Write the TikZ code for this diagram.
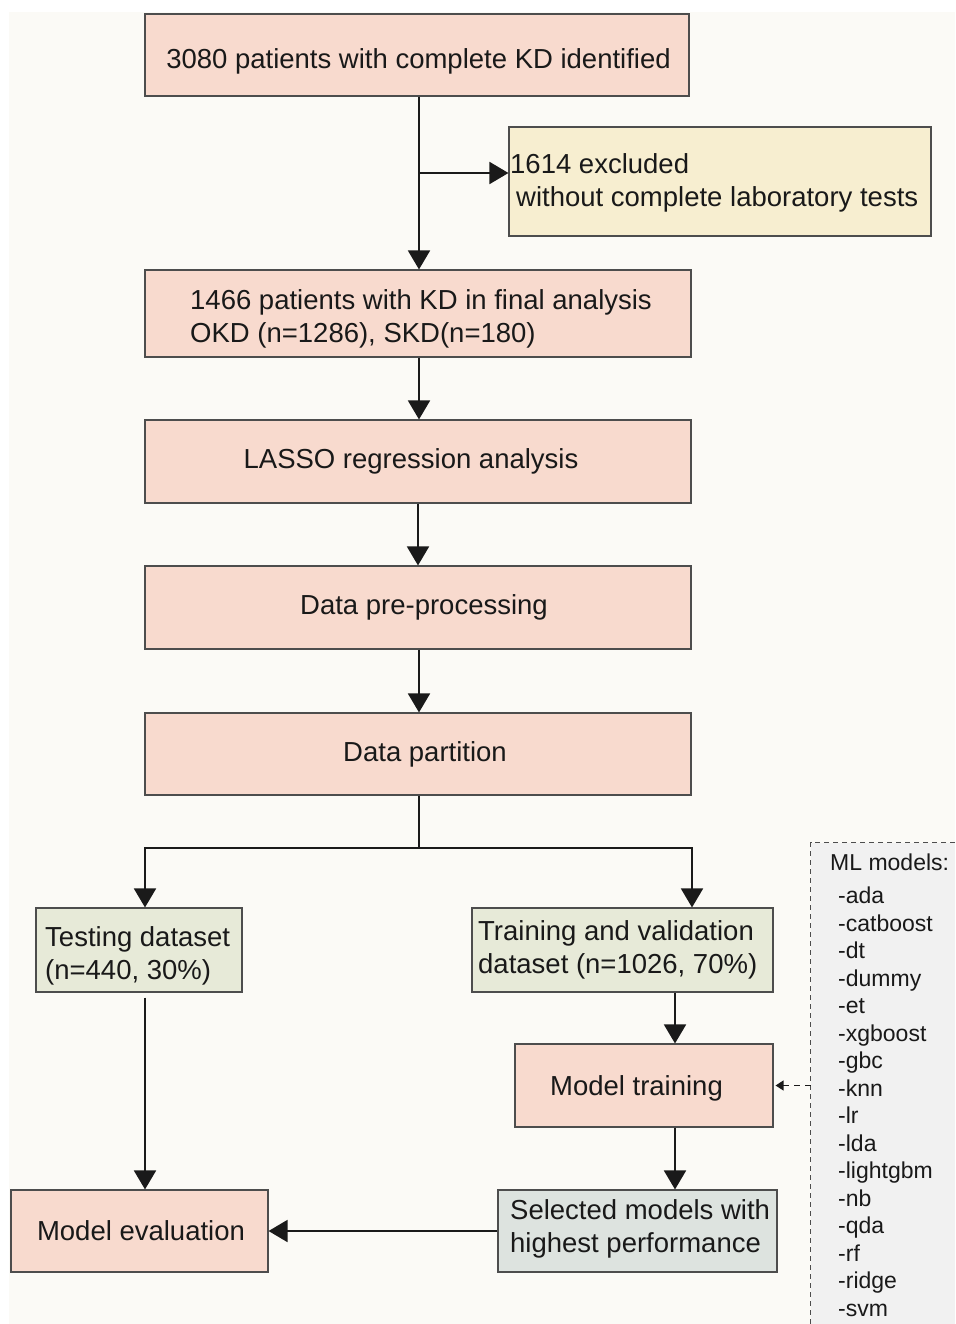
\documentclass[tikz,border=0pt]{standalone}
\usepackage{fontspec}
\setmainfont{Liberation Sans}
\usetikzlibrary{arrows.meta}
\definecolor{pinkc}{HTML}{F8DACE}
\definecolor{yellowc}{HTML}{F7EED0}
\definecolor{greenc}{HTML}{E7EAD8}
\definecolor{greyc}{HTML}{DDE3DF}
\definecolor{mlc}{HTML}{F1F1F1}
\definecolor{bgc}{HTML}{FBFAF6}
\definecolor{edgec}{HTML}{4D4D4D}
\definecolor{arrc}{HTML}{1A1A1A}
\tikzset{
  box/.style={draw=edgec, line width=1.1pt, inner sep=0pt},
  pinkbox/.style={box, fill=pinkc},
  yellowbox/.style={box, fill=yellowc},
  greenbox/.style={box, fill=greenc},
  greybox/.style={box, fill=greyc},
  txt/.style={inner sep=0pt, font=\fontsize{27.5}{33}\selectfont, text=black!90},
  ltxt/.style={txt, anchor=west, align=left},
  arr/.style={draw=arrc, line width=1.8pt, -{Triangle[length=19pt,width=22pt]}},
  plainline/.style={draw=arrc, line width=1.8pt},
  dasharr/.style={draw=arrc, line width=1.2pt, dash pattern=on 6pt off 5pt, -{Triangle[length=8pt,width=10pt]}},
}
\begin{document}
\begin{tikzpicture}[x=1pt, y=-1pt]
\useasboundingbox (0,0) rectangle (955,1324);
\fill[bgc] (9,12) rectangle (955,1324);

% ML models panel
\node[fill=mlc, minimum width=144pt, minimum height=481pt, inner sep=0pt] (mlbox) at (883,1083.5) {};
\draw[edgec, line width=1pt, dash pattern=on 5pt off 4pt] (mlbox.north east) -- (mlbox.north west) -- (mlbox.south west);
\node[anchor=north west, inner sep=0pt, align=left, font=\fontsize{23}{27.5}\selectfont, text=black!90] (mllist) at (830,854)
 {ML models:\\[5.5pt]
  \hspace*{8pt}-ada\\
  \hspace*{8pt}-catboost\\
  \hspace*{8pt}-dt\\
  \hspace*{8pt}-dummy\\
  \hspace*{8pt}-et\\
  \hspace*{8pt}-xgboost\\
  \hspace*{8pt}-gbc\\
  \hspace*{8pt}-knn\\
  \hspace*{8pt}-lr\\
  \hspace*{8pt}-lda\\
  \hspace*{8pt}-lightgbm\\
  \hspace*{8pt}-nb\\
  \hspace*{8pt}-qda\\
  \hspace*{8pt}-rf\\
  \hspace*{8pt}-ridge\\
  \hspace*{8pt}-svm};

% boxes
\node[pinkbox, minimum width=544pt, minimum height=82pt] (n1) at (417,55) {};
\node[txt] (n1t) at (418.5,61) {3080 patients with complete KD identified};
\node[yellowbox, minimum width=422pt, minimum height=109pt] (excl) at (720,181.5) {};
\node[ltxt] (exclt) at (510,182.5) {1614 excluded\\ \hspace*{6pt}without complete laboratory tests};
\node[pinkbox, minimum width=546pt, minimum height=87pt] (n2) at (418,313.5) {};
\node[ltxt] (n2t) at (190,318.5) {1466 patients with KD in final analysis\\OKD (n=1286), SKD(n=180)};
\node[pinkbox, minimum width=546pt, minimum height=83pt] (lasso) at (418,461.5) {};
\node[txt] (lassot) at (411,461) {LASSO regression analysis};
\node[pinkbox, minimum width=546pt, minimum height=83pt] (prep) at (418,607.5) {};
\node[txt] (prept) at (424,607) {Data pre-processing};
\node[pinkbox, minimum width=546pt, minimum height=82pt] (part) at (418,754) {};
\node[txt] (partt) at (425,754) {Data partition};
\node[greenbox, minimum width=206pt, minimum height=84pt] (test) at (139,950) {};
\node[ltxt] (testt) at (45,956) {Testing dataset\\(n=440, 30\%)};
\node[greenbox, minimum width=301pt, minimum height=84pt] (train) at (622.5,950) {};
\node[ltxt] (traint) at (478,950) {Training and validation\\dataset (n=1026, 70\%)};
\node[pinkbox, minimum width=258pt, minimum height=83pt] (mt) at (644,1085.5) {};
\node[txt] (mtt) at (636.5,1088) {Model training};
\node[pinkbox, minimum width=257pt, minimum height=82pt] (eval) at (139.5,1231) {};
\node[txt] (evalt) at (141,1231) {Model evaluation};
\node[greybox, minimum width=279pt, minimum height=82pt] (sel) at (637.5,1231) {};
\node[ltxt] (selt) at (510,1229) {Selected models with\\highest performance};

% connectors
\coordinate (br) at (419,173);
\coordinate (split) at (419,848);
\draw[arr] ([xshift=2pt]n1.south) -- ([xshift=2pt]n1.south |- n2.north);
\draw[arr] (br) -- (br -| excl.west);
\draw[arr] ([xshift=1pt]n2.south) -- ([xshift=1pt]n2.south |- lasso.north);
\draw[arr] (lasso.south) -- (lasso.south |- prep.north);
\draw[arr] ([xshift=1pt]prep.south) -- ([xshift=1pt]prep.south |- part.north);
\draw[plainline] ([xshift=1pt]part.south) -- (split);
\draw[arr] (split) -| ([xshift=6pt]test.north);
\draw[arr] (split) -| ([xshift=69.5pt]train.north);
\draw[arr] ([xshift=6pt,yshift=-5pt]test.south) -- ([xshift=5.5pt]eval.north);
\draw[arr] ([xshift=52.5pt]train.south) -- ([xshift=52.5pt]train.south |- mt.north);
\draw[arr] ([xshift=31pt]mt.south) -- ([xshift=31pt]mt.south |- sel.north);
\draw[arr] (sel.west) -- (eval.east);
\draw[dasharr] (mlbox.west |- mt.east) -- ([xshift=2pt]mt.east);
\end{tikzpicture}
\end{document}
